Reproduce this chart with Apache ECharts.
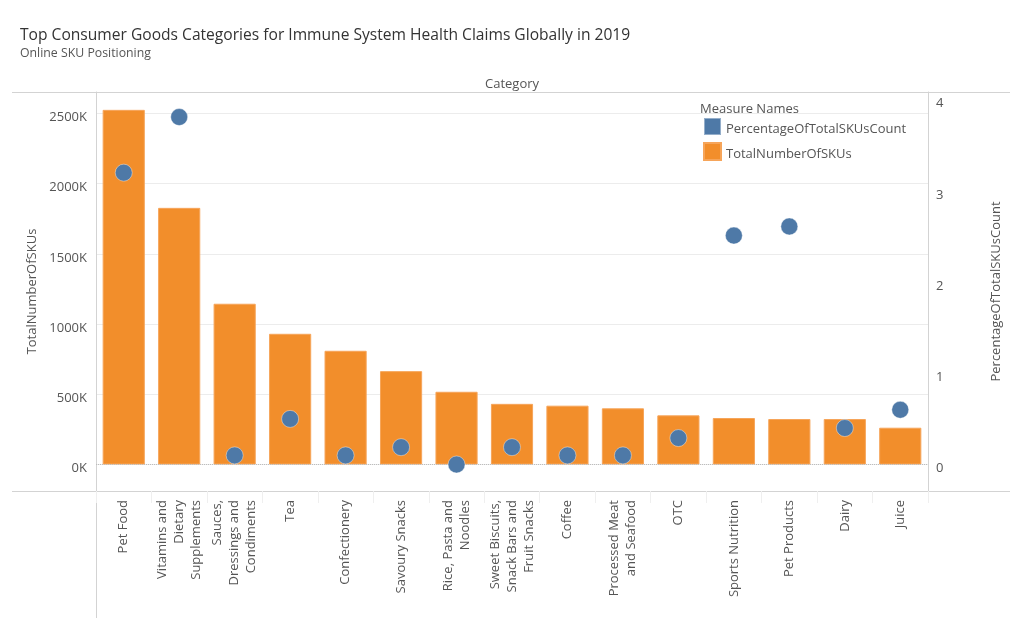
<!DOCTYPE html>
<html>
<head>
<meta charset="utf-8">
<script src="https://cdn.jsdelivr.net/npm/echarts@6/dist/echarts.min.js"></script>
<style>html,body{margin:0;padding:0;background:#fff;}#c{width:1024px;height:618px;}</style>
</head>
<body>
<div id="c"></div>
<script>
var categories = ["Pet Food", "Vitamins and\nDietary\nSupplements", "Sauces,\nDressings and\nCondiments", "Tea", "Confectionery", "Savoury Snacks", "Rice, Pasta and\nNoodles", "Sweet Biscuits,\nSnack Bars and\nFruit Snacks", "Coffee", "Processed Meat\nand Seafood", "OTC", "Sports Nutrition", "Pet Products", "Dairy", "Juice"];
var totalNumberOfSKUs = [2526000, 1828000, 1145000, 931000, 810000, 665000, 518000, 432000, 419000, 400000, 350000, 331000, 324000, 324000, 262000];
var percentageOfTotalSKUsCount = [3.20, 3.81, 0.10, 0.50, 0.10, 0.19, 0.00, 0.19, 0.10, 0.10, 0.29, 2.51, 2.61, 0.40, 0.60];
var leftTicks = [0, 500000, 1000000, 1500000, 2000000, 2500000];
var rightTicks = [0, 1, 2, 3, 4];

var FONT = '"Open Sans", "DejaVu Sans", sans-serif';
var shifted = {a: {fontFamily: FONT, fontSize: 13, color: '#555', padding: [8, 0, 0, 0]}};
var chart = echarts.init(document.getElementById('c'), null, {renderer: 'canvas'});
var option = {
  backgroundColor: '#fff',
  textStyle: {fontFamily: FONT},
  animation: false,
  title: [{
    text: 'Top Consumer Goods Categories for Immune System Health Claims Globally in 2019',
    subtext: 'Online SKU Positioning',
    left: 15, top: 23, itemGap: 3,
    textStyle: {fontFamily: FONT, fontSize: 15.6, fontWeight: 'normal', color: '#333'},
    subtextStyle: {fontFamily: FONT, fontSize: 12.3, color: '#555'}
  }, {
    text: 'Category', left: 'center', top: 73,
    textStyle: {fontFamily: FONT, fontSize: 13, fontWeight: 'normal', color: '#555'}
  }],
  legend: {
    orient: 'vertical', left: 698, top: 112, itemWidth: 17, itemHeight: 17, itemGap: 6,
    icon: 'rect',
    data: ['PercentageOfTotalSKUsCount', 'TotalNumberOfSKUs'],
    formatter: function (name) { return '{a|' + name + '}'; },
    textStyle: {fontFamily: FONT, fontSize: 13, color: '#555',
      rich: {a: {fontFamily: FONT, fontSize: 13, color: '#555', padding: [6, 0, 0, 0]}}}
  },
  grid: {left: 96, right: 96, top: 92, bottom: 127, containLabel: false},
  xAxis: {
    type: 'category', data: categories, position: 'bottom',
    axisLine: {onZero: false, show: true, lineStyle: {color: '#d3d3d3'}},
    axisTick: {show: true, length: 12, lineStyle: {color: '#efefef'}},
    axisLabel: {rotate: 90, interval: 0, margin: 9, fontFamily: FONT, fontSize: 13, color: '#555', lineHeight: 17}
  },
  yAxis: [{
    type: 'value', position: 'left', min: -188746, max: 2653131,
    name: 'TotalNumberOfSKUs', nameLocation: 'middle', nameGap: 51,
    nameTextStyle: {fontFamily: FONT, fontSize: 13, color: '#555'},
    axisLine: {show: true, lineStyle: {color: '#d3d3d3'}},
    axisTick: {show: false, customValues: leftTicks},
    splitLine: {show: true, lineStyle: {color: '#ececec'}},
    axisLabel: {customValues: leftTicks, margin: 9, fontFamily: FONT, fontSize: 13, color: '#555', rich: shifted,
      formatter: function (v) { return '{a|' + Math.round(v / 1000) + 'K}'; }}
  }, {
    type: 'value', position: 'right', min: -0.2906, max: 4.0844,
    name: 'PercentageOfTotalSKUsCount', nameLocation: 'middle', nameGap: 62,
    nameTextStyle: {fontFamily: FONT, fontSize: 13, color: '#555'},
    axisLine: {show: true, lineStyle: {color: '#d3d3d3'}},
    axisTick: {show: false, customValues: rightTicks},
    splitLine: {show: false},
    axisLabel: {customValues: rightTicks, margin: 8, fontFamily: FONT, fontSize: 13, color: '#555', rich: shifted,
      formatter: function (v) { return '{a|' + v + '}'; }}
  }],
  series: [{
    name: 'TotalNumberOfSKUs', type: 'bar', data: totalNumberOfSKUs, yAxisIndex: 0,
    barWidth: '76%',
    itemStyle: {color: '#F28E2B', borderColor: '#f6a55a', borderWidth: 1},
    markLine: {silent: true, symbol: 'none', label: {show: false},
      lineStyle: {type: 'dotted', color: '#bdbdbd', width: 1}, data: [{yAxis: 0}]},
    z: 2
  }, {
    name: 'PercentageOfTotalSKUsCount', type: 'scatter', data: percentageOfTotalSKUsCount, yAxisIndex: 1,
    symbolSize: 17,
    itemStyle: {color: '#4E79A7', opacity: 1, borderColor: 'rgba(255,255,255,0.4)', borderWidth: 1},
    z: 5
  }],
  graphic: [
    {type: 'line', silent: true, shape: {x1: 12, y1: 92.5, x2: 1010, y2: 92.5}, style: {stroke: '#d3d3d3', lineWidth: 1}},
    {type: 'line', silent: true, shape: {x1: 12, y1: 491.5, x2: 1010, y2: 491.5}, style: {stroke: '#d3d3d3', lineWidth: 1}},
    {type: 'line', silent: true, shape: {x1: 96.5, y1: 92, x2: 96.5, y2: 618}, style: {stroke: '#d3d3d3', lineWidth: 1}},
    {type: 'text', silent: true, left: 700, top: 103, style: {text: 'Measure Names', fill: '#555', font: '13px ' + FONT}}
  ]
};
chart.setOption(option);
</script>
</body>
</html>
